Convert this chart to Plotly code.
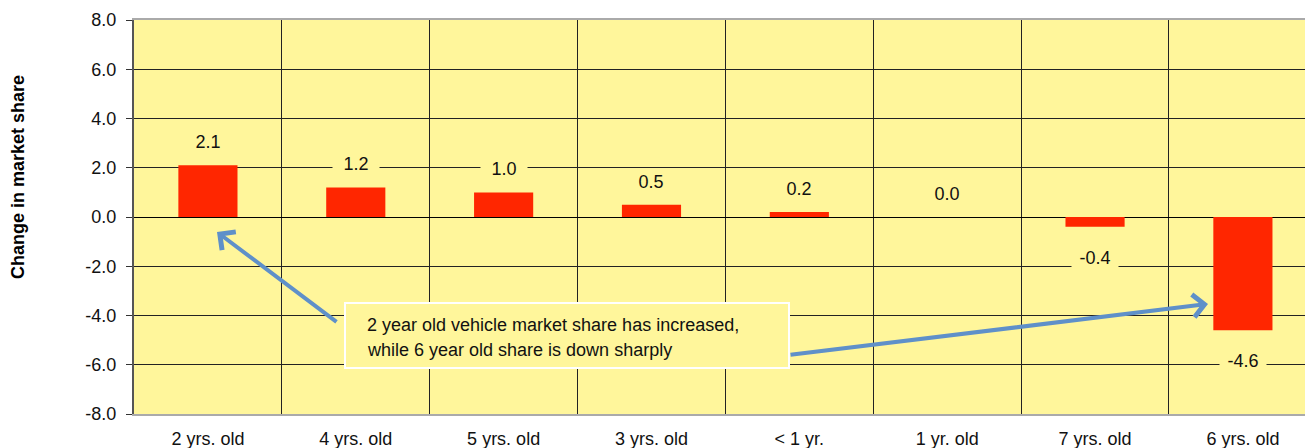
import plotly.graph_objects as go

categories = ["2 yrs. old", "4 yrs. old", "5 yrs. old", "3 yrs. old", "< 1 yr.", "1 yr. old", "7 yrs. old", "6 yrs. old"]
values = [2.1, 1.2, 1.0, 0.5, 0.2, 0.0, -0.4, -4.6]
y_ticks = [-8, -6, -4, -2, 0, 2, 4, 6, 8]
y_ticktext = [f"{v:.1f}" for v in y_ticks]
note_lines = ["2 year old vehicle market share has increased,", "while 6 year old share is down sharply"]
y_title = "Change in market share"

BG = "#FFF69B"
BAR = "#FF2600"
ARROW = "#5F90C9"
NARROW = "Liberation Sans Narrow, Arial Narrow, Liberation Sans, Arial, sans-serif"
SANS = "Liberation Sans, Arial, sans-serif"

W, H = 1305, 448
L, R, T, B = 134, 0, 20, 34
pw, ph = W - L - R, H - T - B

def px2paper(x, y):
    return (x - L) / pw, (H - B - y) / ph

fig = go.Figure()
fig.add_trace(go.Bar(x=categories, y=values, marker=dict(color=BAR, line=dict(width=0)),
                     width=0.4, hoverinfo="skip"))

annotations = []
for c, v in zip(categories, values):
    annotations.append(dict(x=c, y=v, xref="x", yref="y", text=f"{v:.1f}", showarrow=False,
                            yshift=23 if v >= 0 else -31, bgcolor=BG, borderpad=3, width=40,
                            font=dict(family=SANS, size=18, color="#111")))

# y-axis title
tx, ty = px2paper(18, 177)
annotations.append(dict(x=tx, y=ty, xref="paper", yref="paper", text=f"<b>{y_title}</b>",
                        xanchor="center", yanchor="middle",
                        textangle=-90, showarrow=False, font=dict(family=NARROW, size=18, color="#000")))

# arrows
hx, hy = px2paper(217, 232)
annotations.append(dict(x=hx, y=hy, xref="paper", yref="paper", ax=121, ay=91, text="",
                        showarrow=True, arrowhead=4, arrowsize=1.1, arrowwidth=4, arrowcolor=ARROW))
hx, hy = px2paper(1208, 304)
annotations.append(dict(x=hx, y=hy, xref="paper", yref="paper", ax=-419, ay=51, text="",
                        showarrow=True, arrowhead=4, arrowsize=1.1, arrowwidth=4, arrowcolor=ARROW))

# note text
for i, line in enumerate(note_lines):
    nx, ny = px2paper(365, 325 + 25 * i)
    annotations.append(dict(x=nx, y=ny, xref="paper", yref="paper", text=line, align="left",
                            xanchor="left", yanchor="middle", showarrow=False,
                            font=dict(family=NARROW, size=18, color="#111")))

x0, y0 = px2paper(345, 368)
x1, y1 = px2paper(789, 303)
shapes = [dict(type="rect", xref="paper", yref="paper", x0=x0, y0=y0, x1=x1, y1=y1,
               fillcolor=BG, line=dict(color="white", width=2), layer="above")]

fig.update_layout(
    width=W, height=H, margin=dict(l=L, r=R, t=T, b=B),
    paper_bgcolor="white", plot_bgcolor=BG, showlegend=False,
    annotations=annotations, shapes=shapes,
    xaxis=dict(type="category", range=[-0.5, 7.42], tickson="boundaries",
               showgrid=True, gridcolor="#222", gridwidth=1,
               ticks="", ticklabelstandoff=7, automargin=False,
               showline=True, linecolor="#AAAAAA", linewidth=2, mirror=True,
               tickfont=dict(family=NARROW, size=18, color="#111")),
    yaxis=dict(range=[-8, 8], tickvals=y_ticks, ticktext=y_ticktext,
               showgrid=True, gridcolor="#222", gridwidth=1,
               zeroline=True, zerolinecolor="#000", zerolinewidth=1,
               ticks="outside", ticklen=6, tickcolor="#333",
               showline=True, linecolor="#555", linewidth=2, automargin=False,
               tickfont=dict(family=SANS, size=18, color="#111"), ticklabelstandoff=6),
)

fig.write_html("out.html", config={"displayModeBar": False},
               post_script="document.body.style.margin='0';document.body.style.overflow='hidden';")
